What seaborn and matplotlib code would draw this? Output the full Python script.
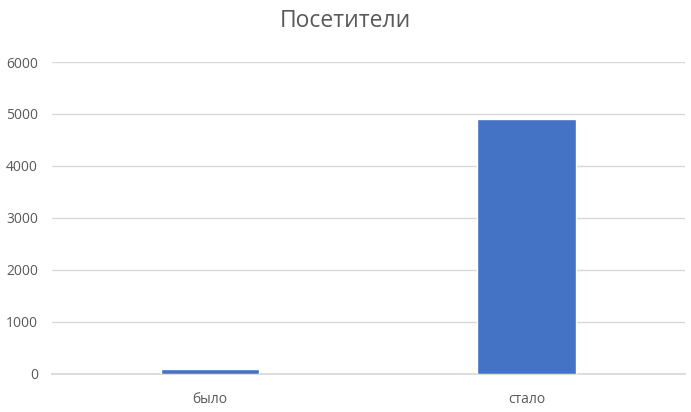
import seaborn as sns
import matplotlib.pyplot as plt
import pandas as pd

categories = ['было', 'стало']
visitors = [90, 4910]
y_ticks = [0, 1000, 2000, 3000, 4000, 5000, 6000]

df = pd.DataFrame({'cat': categories, 'val': visitors})

sns.set_theme(style='white')
plt.rcParams['font.family'] = ['Open Sans', 'DejaVu Sans']

fig = plt.figure(figsize=(6.91, 4.12), dpi=100)
ax = fig.add_axes([0.075, 0.0934, 0.916, 0.7561])

sns.barplot(data=df, x='cat', y='val', color='#4472C4', saturation=1,
            width=0.31, ax=ax, zorder=3)

ax.set_ylim(0, 6000)
ax.set_yticks(y_ticks)
ax.set_yticklabels([str(t) for t in y_ticks])
ax.grid(axis='y', color='#D9D9D9', linewidth=1, zorder=0)
ax.set_xlabel('')
ax.set_ylabel('')
for s in ['top', 'right', 'left']:
    ax.spines[s].set_visible(False)
ax.spines['bottom'].set_color('#D9D9D9')
ax.tick_params(axis='both', length=0, labelsize=10, colors='#595959')
ax.tick_params(axis='y', pad=10)
ax.tick_params(axis='x', pad=13)

fig.text(0.5, 0.948, 'Посетители', ha='center', va='center',
         fontsize=16.5, color='#595959')

plt.savefig('out.png', dpi=100)
plt.close()
